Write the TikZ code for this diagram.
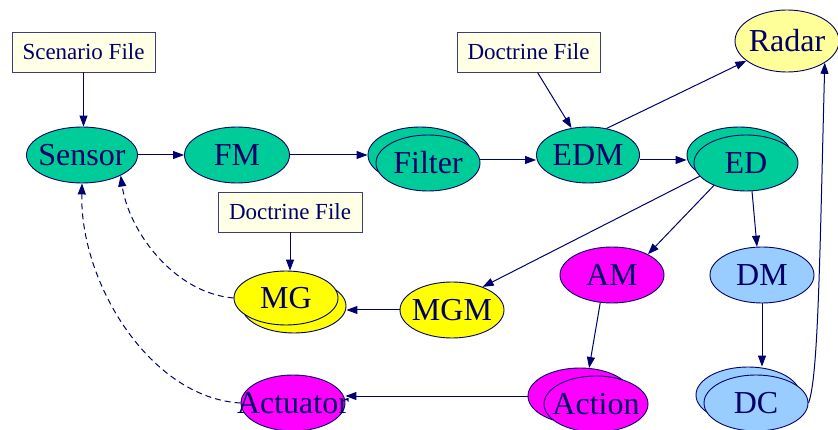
\documentclass[tikz,border=0pt]{standalone}
\usepackage{fontspec}
\setmainfont{Liberation Serif}
\newfontfamily\tnr{Liberation Serif}
\usetikzlibrary{shapes.geometric,arrows.meta}
\definecolor{navy}{RGB}{0,0,102}
\definecolor{linec}{RGB}{0,0,110}
\definecolor{grn}{RGB}{0,204,153}
\definecolor{yel}{RGB}{255,255,0}
\definecolor{ltyel}{RGB}{255,255,153}
\definecolor{mag}{RGB}{255,0,255}
\definecolor{ltblue}{RGB}{153,204,255}
\definecolor{boxfill}{RGB}{255,255,230}
\definecolor{boxline}{RGB}{60,60,120}
\newcommand{\elltxt}[1]{\makebox[0pt]{#1}}
\begin{document}
\begin{tikzpicture}[x=1pt,y=-1pt,
 ell/.style={ellipse, draw=navy, line width=0.9pt, minimum width=104pt, minimum height=56pt, inner sep=0pt, text=navy, font=\tnr\fontsize{32}{35}\selectfont},
 filebox/.style={rectangle, draw=boxline, fill=boxfill, line width=0.9pt, minimum width=143pt, minimum height=40pt, inner sep=0pt, text=navy, font=\tnr\fontsize{23}{26}\selectfont},
 conn/.style={draw=linec, line width=1pt, -{Triangle[length=11pt,width=8pt]}},
 dconn/.style={conn, dash pattern=on 6pt off 4pt}]
\useasboundingbox (0,0) rectangle (838,430);

% file boxes
\node[filebox] (sf) at (83.5,52) {Scenario File};
\node[filebox] (df1) at (528.5,52) {Doctrine File};
\node[filebox, minimum width=144pt] (df2) at (290,212) {Doctrine File};

% ellipses
\node[ell, fill=grn, minimum width=111pt] (sensor) at (82,155) {\elltxt{Sensor}};
\node[ell, fill=grn, minimum width=105pt] (fm) at (237,155) {\elltxt{FM}};
\node[ell, fill=grn] (filterback) at (420,155) {};
\node[ell, fill=grn] (filter) at (428,163) {\elltxt{Filter}};
\node[ell, fill=grn, minimum width=103pt] (edm) at (588,155) {\elltxt{EDM}};
\node[ell, fill=ltyel, minimum height=62pt] (radar) at (787,41) {\elltxt{Radar}};
\node[ell, fill=grn] (edback) at (739,155) {};
\node[ell, fill=grn] (ed) at (746,163) {\elltxt{ED}};
\node[ell, fill=mag] (am) at (612,275) {\elltxt{AM}};
\node[ell, fill=ltblue] (dm) at (762,275) {\elltxt{DM}};
\node[ell, fill=yel] (mgm) at (452,310) {\elltxt{MGM}};
\node[ell, fill=yel, minimum height=54pt] (mgback) at (294,306) {};
\node[ell, fill=yel, minimum height=54pt] (mg) at (286,298) {\elltxt{MG}};
\node[ell, fill=mag] (actuator) at (293,403) {\elltxt{Actuator}};
\node[ell, fill=mag] (actionback) at (580,396) {};
\node[ell, fill=mag] (action) at (596,404) {\elltxt{Action}};
\node[ell, fill=ltblue] (dcback) at (748,395) {};
\node[ell, fill=ltblue] (dc) at (756,403) {\elltxt{DC}};

% connectors
\draw[conn] (sf.south) -- (sf.south |- sensor.north);
\draw[conn] (sensor.east) -- (fm.west);
\draw[conn] (fm.east) -- (filterback.west);
\draw[conn] ([yshift=3pt]filter.east) -- ([yshift=3pt]filter.east -| edm.west);
\draw[conn] ([yshift=-5pt]edm.east) -- ([yshift=-5pt]edm.east -| edback.west);
\draw[conn] ([xshift=9pt]df1.south) -- (edm);
\draw[conn] (edm.55) -- (radar.206);
\draw[conn] (ed.196) -- (mgm.37);
\draw[conn] (ed.215) -- (am.30);
\draw[conn] (ed.282) -- (dm.100);
\draw[conn] (am.247) -- (actionback.72);
\draw[conn] (dm.south) -- (dm.south |- dcback.north);
\draw[conn] (dc.east) .. controls +(10,-25) and +(-5,190) .. (radar.330);
\draw[conn] (mgm.west) -- (mgm.west -| mgback.east);
\draw[conn] (df2.south) -- (df2.south |- mg.north);
\draw[conn] (actionback.west) -- (actionback.west -| actuator.east);
\draw[dconn] (mg.west) .. controls +(-60,-5) and +(8,55) .. (sensor.332);
\draw[dconn] (actuator.west) .. controls +(-90,-5) and +(-2,100) .. (sensor.south);
\end{tikzpicture}
\end{document}
